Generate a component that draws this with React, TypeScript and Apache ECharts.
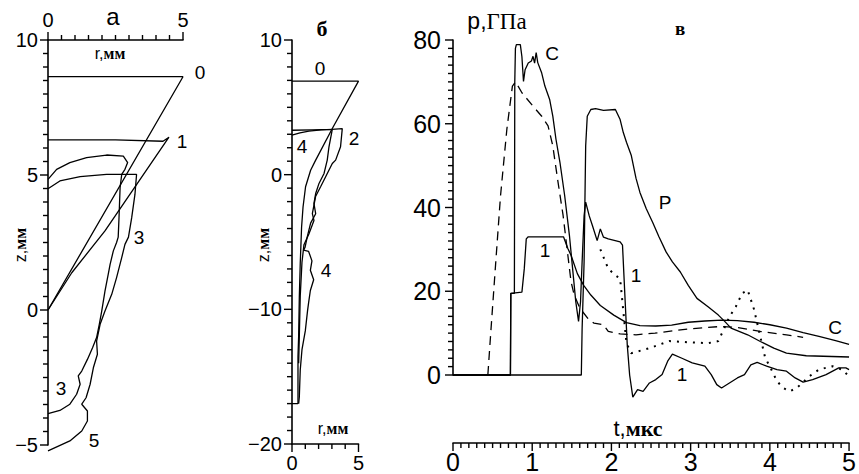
import React, { useEffect, useRef } from "react";
import * as echarts from "echarts";

// ---------- Panel а : (r, z) contours ----------
const aCurve0 = [[0, 8.64], [5, 8.64], [0, 0]];
const aCurve1 = [[0, 6.3], [2.5, 6.3], [4.26, 6.25], [4.48, 6.4], [2.11, 2.93], [0.88, 1.38], [0, 0]];
const aCurve3 = [
  [0, 4.84], [0.32, 5.21], [0.81, 5.46], [1.43, 5.64], [2.17, 5.74], [2.79, 5.7], [2.95, 5.46], [2.85, 5.21],
  [2.73, 5.02], [2.67, 4.53], [2.63, 3.42], [2.6, 2.7], [2.54, 2.5], [2.42, 2.19], [2.3, 1.69], [2.23, 1.32],
  [2.11, 0.7], [1.99, -0.04], [1.9, -0.53], [1.8, -1.02], [1.65, -1.4], [1.46, -1.83], [1.25, -2.26],
  [1.12, -2.44], [1.19, -2.75], [1.06, -3.12], [0.81, -3.49], [0.44, -3.72], [0, -3.84],
];
const aCurve5 = [
  [0, 4.49], [0.44, 4.78], [1.19, 4.94], [2.17, 5.02], [3.28, 5.02], [3.22, 4.28], [3.1, 3.42], [2.98, 2.7],
  [2.85, 2.43], [2.73, 1.94], [2.54, 1.2], [2.36, 0.58], [2.11, -0.04], [1.93, -0.53], [1.8, -1.15],
  [1.83, -1.64], [1.68, -2.14], [1.56, -2.75], [1.41, -3.25], [1.25, -3.49], [1.46, -3.74], [1.46, -4.11],
  [1.25, -4.48], [0.81, -4.85], [0, -5.22],
];

// ---------- Panel б : (r, z) contours ----------
const bCurve0 = [
  [0, 6.95], [5, 6.95], [3.03, 3.43], [1.78, 1.08], [1.4, 0.33], [1.02, -0.9], [0.83, -2.4], [0.72, -3.9],
  [0.62, -6.6], [0.55, -9.1], [0.5, -12], [0.45, -13.5], [0.45, -17], [0, -17],
];
const bCurve2 = [
  [0, 3.3], [1.5, 3.33], [3.0, 3.36], [3.78, 3.42], [3.65, 2.07], [3.28, 1.08], [3.03, 0.83], [2.53, -0.16],
  [2.15, -0.9], [1.78, -1.6], [1.53, -2.9], [1.65, -3.4], [1.27, -4.4], [0.9, -5.2], [0.75, -6.5],
  [0.62, -9], [0.55, -12], [0.5, -14],
];
const bCurve4 = [
  [0, 2.94], [0.6, 3.1], [1.27, 3.23], [2.2, 3.33], [3.03, 3.36], [2.78, 2.07], [2.65, 1.08], [2.41, 0.09],
  [2.03, -0.65], [1.78, -1.4], [1.65, -2.14], [1.78, -2.9], [1.4, -3.6], [1.15, -4.6], [0.98, -5.4],
  [0.87, -5.6], [1.25, -5.7], [1.5, -6.4], [1.38, -7.1], [1.63, -7.8], [1.38, -8.6], [1.25, -9.5],
  [1.17, -10.1], [1.0, -11.6], [0.75, -13], [0.62, -14.5], [0.55, -16.5], [0.5, -17],
];

// ---------- Panel в : p(t), GPa vs μs ----------
const cSolidC = [
  [0, 0], [0.725, 0], [0.73, 19.5], [0.775, 19.5], [0.78, 70], [0.788, 78], [0.8, 78.9], [0.85, 78.9],
  [0.87, 76], [0.89, 70.1], [0.91, 72.9], [0.95, 74.5], [0.99, 75], [1.01, 76.1], [1.03, 74.5], [1.05, 77],
  [1.07, 74.6], [1.12, 72.1], [1.16, 69], [1.22, 65.8], [1.26, 61.8], [1.3, 56.3], [1.35, 50.8], [1.41, 42.8],
  [1.47, 33.3], [1.51, 25.4], [1.55, 17.5], [1.585, 12.8], [1.61, 17.5], [1.63, 27], [1.655, 38], [1.675, 41.3],
  [1.72, 38], [1.76, 35.7], [1.82, 32.1], [1.86, 34.9], [1.9, 32.9], [1.96, 32.5], [2.11, 31.8], [2.14, 31],
  [2.17, 19], [2.2, 7.2], [2.23, 0], [2.27, -5.3], [2.33, -3.5], [2.4, -3.9], [2.48, -1.9], [2.56, -1.1],
  [2.64, 0.1], [2.71, 3.3], [2.77, 5], [2.89, 4], [3.02, 2.9], [3.18, 2.1], [3.26, 0.1], [3.33, -2.3],
  [3.39, -3.1], [3.49, -1.9], [3.59, -0.7], [3.68, 0.1], [3.76, 2.4], [3.84, 3], [3.96, 2.1], [4.09, 1.3],
  [4.21, 0.9], [4.32, -0.7], [4.42, -1.7], [4.54, -1.1], [4.71, 0.1], [4.87, 1.7], [4.96, 1.7], [5.0, 1.3],
];
const cSolid1 = [
  [0, 0], [0.725, 0], [0.73, 19.5], [0.87, 19.8], [0.9, 25.4], [0.925, 32.5], [0.95, 33], [1.395, 33],
  [1.45, 30.2], [1.49, 28.6], [1.57, 24.2], [1.65, 21.4], [1.74, 19.1], [1.86, 16.6], [2.03, 14.3],
  [2.19, 12.5], [2.36, 11.8], [2.56, 11.7], [2.76, 11.9], [2.97, 12.6], [3.18, 12.9], [3.39, 13.1],
  [3.59, 13], [3.8, 12.6], [4.0, 12.0], [4.21, 11.2], [4.42, 10.1], [4.62, 9.2], [4.83, 8.2], [5.0, 7.3],
];
const cSolidP = [
  [0, 0], [1.62, 0], [1.63, 11], [1.655, 27], [1.675, 54.7], [1.695, 61.8], [1.74, 63.4], [1.8, 63.6],
  [1.9, 63.2], [2.05, 63.4], [2.11, 61], [2.15, 57.9], [2.19, 55.6], [2.25, 52.5], [2.31, 47], [2.36, 43.6],
  [2.44, 39.7], [2.52, 36.5], [2.6, 33], [2.69, 29.4], [2.77, 27], [2.87, 24.6], [2.97, 21.4], [3.08, 18.3],
  [3.22, 16.3], [3.35, 14.3], [3.43, 12.8], [3.51, 11.2], [3.72, 9.6], [3.88, 8], [4.05, 6.4], [4.21, 5.2],
  [4.46, 4.6], [5.0, 4.3],
];
const cDashed = [
  [0.44, 0], [0.48, 11], [0.54, 27], [0.6, 42.8], [0.68, 58.7], [0.75, 69], [0.79, 70], [0.87, 67.4],
  [1.01, 64.2], [1.12, 61.8], [1.2, 59.5], [1.26, 54.7], [1.32, 46.8], [1.39, 38.1], [1.45, 28.6],
  [1.49, 22.3], [1.53, 19.1], [1.6, 16], [1.72, 13.1], [1.78, 12.4], [1.9, 12], [1.96, 10.4], [2.11, 9.8],
  [2.31, 9.6], [2.55, 10], [2.97, 11], [3.39, 11.6], [3.6, 11.3], [3.88, 10.4], [4.21, 9.6], [4.42, 9],
];
const cDotted = [
  [1.86, 30], [1.96, 25.4], [2.05, 23.8], [2.11, 23], [2.19, 7.6], [2.25, 5.2], [2.48, 6.4], [2.73, 8.1],
  [2.97, 7.8], [3.22, 7.6], [3.35, 8.1], [3.49, 13.9], [3.57, 16.3], [3.65, 19.5], [3.72, 20.3], [3.8, 15.7],
  [3.94, 4.2], [4.03, 0.9], [4.09, -1.5], [4.17, -3.1], [4.25, -3.9], [4.34, -3.1], [4.5, -0.3], [4.62, 1.3],
  [4.79, 2.1], [4.91, 1.3], [5.0, -0.3],
];

// axis ranges / labelled step and tick step: [min, max, labelStep, tickStep]
const aRange = { x: [0, 5, 5, 0.5], y: [-5, 10, 5, 0.5] };
const bRange = { x: [0, 5, 5, 1], y: [-20, 10, 10, 1] };
const cRange = { x: [0, 5, 1, 0.1], y: [0, 80, 20, 2] };

const SANS = "Liberation Sans";
const SERIF = "Liberation Serif";
const C_X_OFFSET = 68;

function axis(gridIndex: number, r: number[], extra: any = {}, fontSize = 20, margin = 9) {
  const step = r[2];
  return {
    type: "value",
    gridIndex,
    min: r[0],
    max: r[1],
    interval: r[3],
    splitLine: { show: false },
    axisLine: { show: true, onZero: false, lineStyle: { color: "#000", width: 1.6 } },
    axisTick: { show: false },
    axisLabel: {
      color: "#000",
      fontFamily: SANS,
      fontSize,
      margin,
      showMinLabel: true,
      showMaxLabel: true,
      formatter: (v: number) => {
        const k = v / step;
        return Math.abs(k - Math.round(k)) < 1e-6 ? String(Math.round(k) * step).replace("-", "−") : "";
      },
    },
    ...extra,
  };
}

function line(data: number[][], xi: number, yi: number, type: any = "solid", width = 1.3) {
  return {
    type: "line",
    data,
    xAxisIndex: xi,
    yAxisIndex: yi,
    symbol: "none",
    clip: false,
    silent: true,
    lineStyle: { color: "#000", width, type },
  };
}

function label(text: string, x: number, y: number, size = 18, family = SANS, weight = "normal") {
  return {
    type: "text",
    x,
    y,
    style: {
      text,
      fill: "#000",
      font: `${weight} ${size}px "${family}"`,
      align: "center",
      verticalAlign: "middle",
      textAlign: "center",
      textVerticalAlign: "middle",
    },
  };
}

function richLabel(a: string, b: string, x: number, y: number, size: number, rotation = 0, bold = true) {
  return {
    type: "text",
    x,
    y,
    rotation,
    style: {
      text: `{s|${a}}{c|${b}}`,
      rich: {
        s: { fontFamily: SANS, fontSize: size, fill: "#000" },
        c: { fontFamily: SERIF, fontSize: size, fontWeight: bold ? "bold" : "normal", fill: "#000" },
      },
      fill: "#000",
      align: "center",
      verticalAlign: "middle",
      textAlign: "center",
      textVerticalAlign: "middle",
    },
  };
}

export default function App() {
  const ref = useRef<HTMLDivElement>(null);
  useEffect(() => {
    if (!ref.current) return;
    const chart = echarts.init(ref.current, null, { renderer: "svg" });
    const labels: any[] = [
      // panel а
      label("а", 113, 16, 24),
      richLabel("r,", "мм", 110, 53, 16),
      richLabel("z,", "мм", 20, 245, 16, Math.PI / 2),
      label("0", 200, 72, 19), label("1", 182, 141, 19), label("3", 139, 237, 19),
      label("3", 61, 388, 19), label("5", 94, 440, 19),
      // panel б
      label("б", 322, 28, 22, SERIF, "bold"),
      richLabel("r,", "мм", 333, 428, 16),
      richLabel("z,", "мм", 263, 245, 16, Math.PI / 2),
      label("0", 320, 68, 19), label("2", 354, 138, 19), label("4", 302, 146, 19), label("4", 326, 270, 19),
      // panel в
      richLabel("р,", "ГПа", 497, 21, 23, 0, false),
      label("в", 680, 28, 19, SERIF, "bold"),
      richLabel("t,", "мкс", 638, 428, 22),
      label("C", 552, 53, 19), label("1", 545, 250, 19), label("1", 636, 275, 19),
      label("P", 665, 202, 19), label("C", 835, 327, 19), label("1", 682, 374, 19),
    ];
    const option: any = {
      animation: false,
      backgroundColor: "#fff",
      grid: [
        { left: 48, top: 40, width: 135, height: 405 },
        { left: 292, top: 40, width: 66.5, height: 404 },
        { left: 453, top: 40, width: 404, height: 337 },
      ],
      xAxis: [
        axis(0, aRange.x, { position: "top" }, 20, 10),
        axis(1, bRange.x, { position: "bottom" }, 20, 9),
        axis(2, cRange.x, { position: "bottom", offset: C_X_OFFSET }, 25, 6),
      ],
      yAxis: [
        axis(0, aRange.y, { position: "left" }, 20, 10),
        axis(1, bRange.y, { position: "left" }, 20, 10),
        axis(2, cRange.y, { position: "left" }, 25, 12),
      ],
      series: [
        line(aCurve0, 0, 0), line(aCurve1, 0, 0), line(aCurve3, 0, 0), line(aCurve5, 0, 0),
        line(bCurve0, 1, 1), line(bCurve2, 1, 1), line(bCurve4, 1, 1),
        line(cSolidC, 2, 2), line(cSolid1, 2, 2), line(cSolidP, 2, 2),
        line(cDashed, 2, 2, [9, 6], 1.3),
        line(cDotted, 2, 2, [2, 6], 2),
      ],
      graphic: { elements: labels },
    };
    chart.setOption(option);

    // tick marks as thin filled rects, positioned through the axes' own scales
    const ticks: any[] = [];
    const W = 1.4;
    const rect = (x: number, y: number, width: number, height: number) =>
      ticks.push({
        type: "rect",
        silent: true,
        z: 100,
        shape: { x, y, width, height },
        style: { fill: "#000", stroke: null },
      });
    const isMajor = (v: number, step: number) => Math.abs(v / step - Math.round(v / step)) < 1e-6;
    const tickValues = (r: number[]) => {
      const n = Math.round((r[1] - r[0]) / r[3]);
      const out: number[] = [];
      for (let i = 0; i <= n; i++) out.push(r[0] + i * r[3]);
      return out;
    };
    const px = (gi: number, v: number) => Number(chart.convertToPixel({ xAxisIndex: gi } as any, v));
    const py = (gi: number, v: number) => Number(chart.convertToPixel({ yAxisIndex: gi } as any, v));
    const xTicks = (gi: number, rx: number[], ry: number[], side: "top" | "bottom", offset = 0) => {
      const yEdge = py(gi, side === "top" ? ry[1] : ry[0]);
      const y0 = side === "top" ? yEdge - offset : yEdge + offset;
      for (const v of tickValues(rx)) {
        const x = px(gi, v);
        const len = isMajor(v, rx[2]) ? 8 : 5;
        if (side === "top") rect(x - W / 2, y0 - len, W, len);
        else rect(x - W / 2, y0, W, len);
      }
    };
    const yTicks = (gi: number, rx: number[], ry: number[]) => {
      const x0 = px(gi, rx[0]);
      for (const v of tickValues(ry)) {
        const y = py(gi, v);
        const len = isMajor(v, ry[2]) ? 8 : 5;
        rect(x0 - len, y - W / 2, len, W);
      }
    };
    xTicks(0, aRange.x, aRange.y, "top");
    yTicks(0, aRange.x, aRange.y);
    xTicks(1, bRange.x, bRange.y, "bottom");
    yTicks(1, bRange.x, bRange.y);
    xTicks(2, cRange.x, cRange.y, "bottom", C_X_OFFSET);
    yTicks(2, cRange.x, cRange.y);

    chart.setOption({ graphic: { elements: [...labels, ...ticks] } });
    return () => chart.dispose();
  }, []);
  return (
    <div
      ref={ref}
      style={{ position: "fixed", left: 0, top: 0, width: 859, height: 474, background: "#fff" }}
    />
  );
}
